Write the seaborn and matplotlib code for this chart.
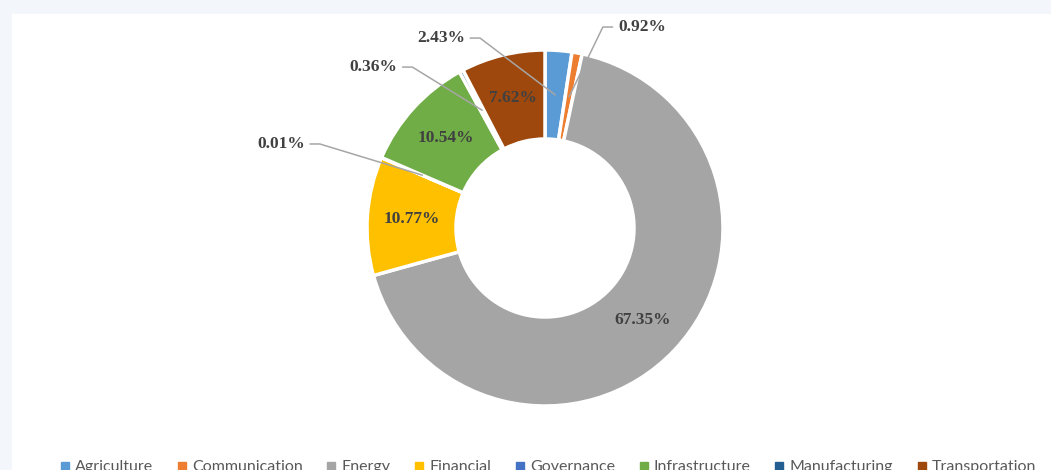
import matplotlib
matplotlib.use("Agg")
import matplotlib.pyplot as plt
import seaborn as sns
import numpy as np
from matplotlib.patches import Rectangle
from matplotlib.lines import Line2D

# datos del grafico
sectores = ['Agriculture', 'Communication', 'Energy', 'Financial',
            'Governance', 'Infrastructure', 'Manufacturing', 'Transportation']
porcentajes = [2.43, 0.92, 67.35, 10.77, 0.01, 10.54, 0.36, 7.62]
colores = ['#5B9BD5', '#ED7D31', '#A5A5A5', '#FFC000',
           '#4472C4', '#70AD47', '#255E91', '#9E480E']

# etiquetas que van afuera con linea guia (indice, x texto, y texto, alineacion)
etiquetas_fuera = {0: (-0.45, 1.067, 'right'),
                   1: (0.41, 1.129, 'left'),
                   4: (-1.35, 0.472, 'right'),
                   6: (-0.83, 0.904, 'right')}

sns.set_theme(style='white')
plt.rcParams['font.family'] = ['Liberation Serif', 'DejaVu Serif']

fig = plt.figure(figsize=(10.51, 4.70), dpi=100)
fig.patch.set_facecolor('#F3F7FB')
# panel blanco del grafico
fig.patches.append(Rectangle((12 / 1051, 0), 1, 1 - 14 / 470, transform=fig.transFigure,
                             facecolor='white', edgecolor='none', zorder=-5))

ax = fig.add_axes([0, 0, 1, 1])
ax.set_zorder(2)
ax.set_facecolor('none')
wedges, _ = ax.pie(porcentajes, colors=colores, startangle=90, counterclock=False,
                   radius=1, wedgeprops=dict(width=0.5, edgecolor='white', linewidth=2.5))

# limites para que el centro quede en (545, 228) px y radio 178 px
r_px = 178.0
ax.set_xlim(-545 / r_px, (1051 - 545) / r_px)
ax.set_ylim((228 - 470) / r_px, 228 / r_px)
ax.set_aspect('auto')
ax.axis('off')

for i, (val, w) in enumerate(zip(porcentajes, wedges)):
    ang = np.deg2rad((w.theta1 + w.theta2) / 2)
    px, py = 0.75 * np.cos(ang), 0.75 * np.sin(ang)
    texto = f'{val:.2f}%'
    if i in etiquetas_fuera:
        tx, ty, ha = etiquetas_fuera[i]
        sgn = 1 if ha == 'right' else -1
        x0 = tx + sgn * 0.03
        x1 = x0 + sgn * 0.055
        ax.plot([x0, x1, px], [ty, ty, py], color='#A6A6A6', lw=1.1, zorder=5)
        ax.text(tx, ty, texto, ha=ha, va='center', fontsize=12.5, fontweight='bold',
                color='#404040')
    else:
        ax.text(px, py, texto, ha='center', va='center', fontsize=12.5,
                fontweight='bold', color='#404040', zorder=6)

handles = [Line2D([], [], marker='s', linestyle='none', markersize=6,
                  markerfacecolor=c, markeredgecolor=c) for c in colores]
fig.legend(handles, sectores, loc='center', bbox_to_anchor=(548 / 1051, 0.006),
           ncol=8, frameon=False, handlelength=0.6, handletextpad=0.33,
           columnspacing=1.5, prop={'family': 'Lato', 'size': 11.5},
           labelcolor='#595959')

fig.savefig('out.png', dpi=100, facecolor=fig.get_facecolor())
